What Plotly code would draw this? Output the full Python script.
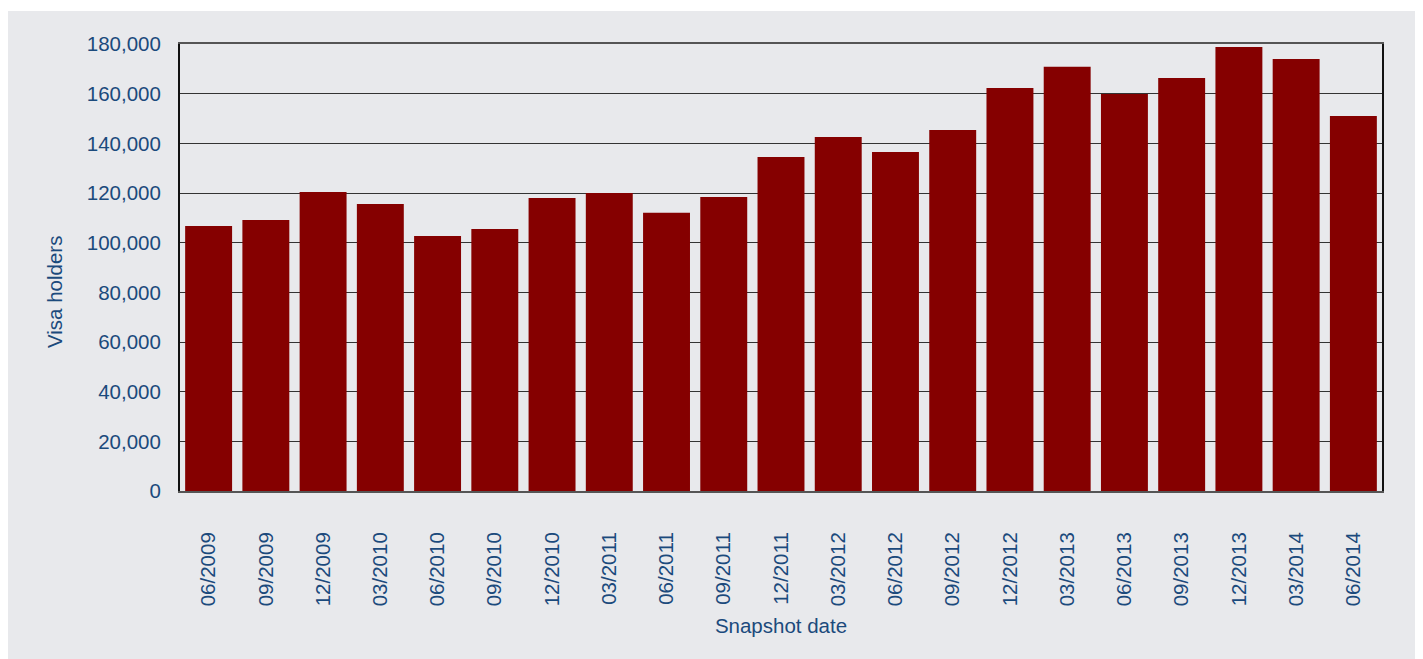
import plotly.graph_objects as go

dates = ["06/2009", "09/2009", "12/2009", "03/2010", "06/2010", "09/2010", "12/2010",
         "03/2011", "06/2011", "09/2011", "12/2011", "03/2012", "06/2012", "09/2012",
         "12/2012", "03/2013", "06/2013", "09/2013", "12/2013", "03/2014", "06/2014"]
visa_holders = [106700, 109100, 120400, 115600, 102700, 105500, 118000,
                120000, 112000, 118400, 134500, 142600, 136500, 145400,
                162300, 170800, 159900, 166300, 178800, 174000, 151000]
y_ticks = [0, 20000, 40000, 60000, 80000, 100000, 120000, 140000, 160000, 180000]

TEXT = "#1b4a7c"
FONT = "Liberation Sans, Arial, sans-serif"
FS = 20.5

fig = go.Figure(go.Bar(x=dates, y=visa_holders, marker=dict(color="#850000", line=dict(width=0))))

W, H = 1423, 659
L, R, T, B = 172, 49, 36, 176
pw, ph = W - L - R, H - T - B

fig.add_shape(type="rect", xref="paper", yref="paper", layer="below",
              x0=(0 - L) / pw, x1=(W + 20 - L) / pw,
              y0=(H - B - H - 20) / ph, y1=(H - B - 3) / ph,
              fillcolor="#e8e9ec", line=dict(width=0))

fig.add_annotation(text="Visa holders", xref="paper", yref="paper",
                   x=(46 - L) / pw, y=(H - B - 284) / ph,
                   xanchor="center", yanchor="middle", textangle=-90,
                   showarrow=False, font=dict(family=FONT, size=FS, color=TEXT))

fig.update_layout(
    width=W, height=H,
    margin=dict(l=L, r=R, t=T, b=B),
    paper_bgcolor="white",
    plot_bgcolor="rgba(0,0,0,0)",
    bargap=0.18,
    showlegend=False,
    font=dict(family=FONT, size=FS, color=TEXT),
    xaxis=dict(
        type="category",
        tickangle=-90,
        ticks="",
        ticklabelstandoff=31,
        showgrid=False,
        showline=True, linecolor="#555555", linewidth=2, mirror=True,
        title=dict(text="Snapshot date", standoff=13, font=dict(size=FS, color=TEXT)),
        tickfont=dict(size=FS, color=TEXT),
    ),
    yaxis=dict(
        range=[0, 180000],
        tickvals=y_ticks,
        tickformat=",d",
        ticks="",
        ticklabelstandoff=13,
        showgrid=True, gridcolor="#333333", gridwidth=1,
        zeroline=False,
        showline=True, linecolor="#111111", linewidth=2, mirror=True,
        tickfont=dict(size=FS, color=TEXT),
    ),
)

fig.write_html("out.html")
